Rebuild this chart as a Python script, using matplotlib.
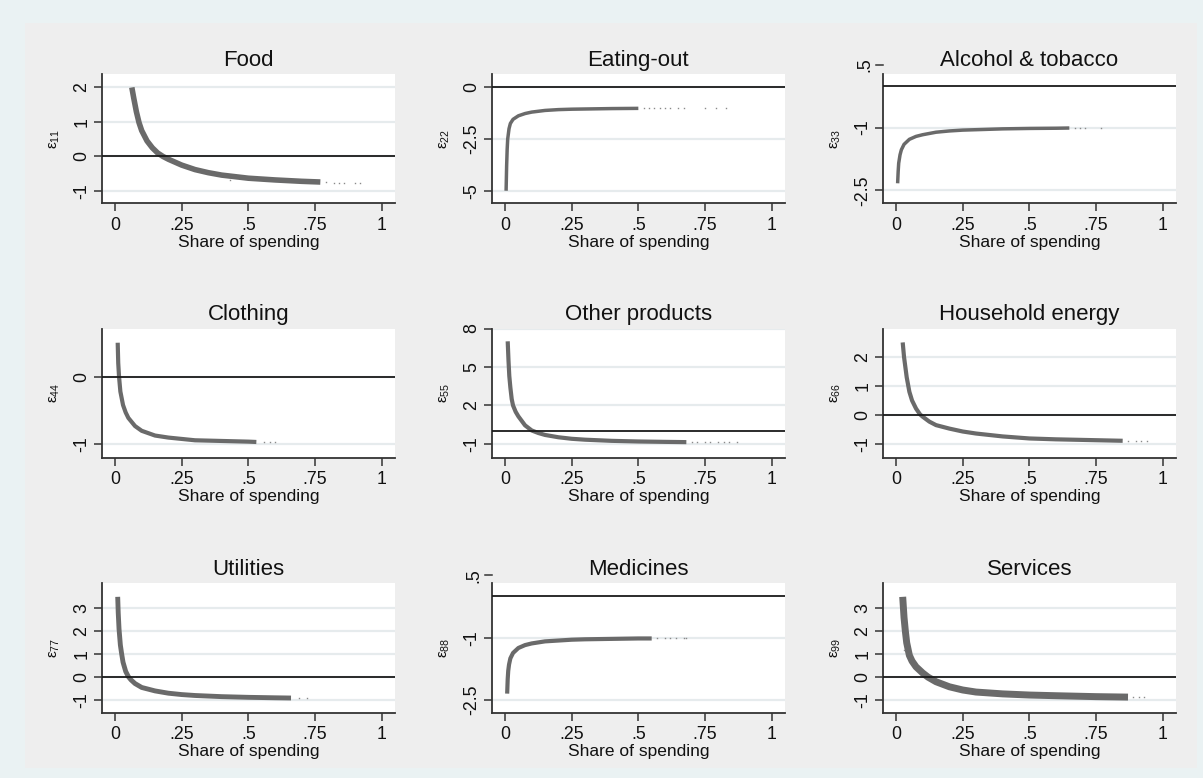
import matplotlib
matplotlib.use("Agg")
import matplotlib.pyplot as plt
from matplotlib.patches import Rectangle

plt.rcParams['font.family'] = ['Liberation Sans', 'DejaVu Sans']
plt.rcParams['mathtext.fontset'] = 'custom'
plt.rcParams['mathtext.rm'] = 'Liberation Sans'

# ---------------- data ----------------
titles = ["Food", "Eating-out", "Alcohol & tobacco",
          "Clothing", "Other products", "Household energy",
          "Utilities", "Medicines", "Services"]
ylabels = [r"ε$_{\mathrm{11}}$", r"ε$_{\mathrm{22}}$", r"ε$_{\mathrm{33}}$",
           r"ε$_{\mathrm{44}}$", r"ε$_{\mathrm{55}}$", r"ε$_{\mathrm{66}}$",
           r"ε$_{\mathrm{77}}$", r"ε$_{\mathrm{88}}$", r"ε$_{\mathrm{99}}$"]

x_ticks = [0, 0.25, 0.5, 0.75, 1]
x_ticklabels = ["0", ".25", ".5", ".75", "1"]

food_share = [0.063, 0.07, 0.08, 0.09, 0.10, 0.12, 0.14, 0.16, 0.18, 0.20, 0.25,
              0.30, 0.35, 0.40, 0.50, 0.60, 0.70, 0.77]
food_elast = [2.0, 1.7, 1.3, 0.98, 0.75, 0.45, 0.25, 0.1, 0.0, -0.08, -0.25,
              -0.38, -0.47, -0.54, -0.63, -0.68, -0.72, -0.74]
food_tail_share = [0.43, 0.79, 0.82, 0.84, 0.86, 0.90, 0.92]
food_tail_elast = [-0.69, -0.75, -0.76, -0.76, -0.77, -0.78, -0.78]

eat_share = [0.004, 0.006, 0.008, 0.01, 0.015, 0.02, 0.03, 0.05, 0.075, 0.1,
             0.15, 0.2, 0.25, 0.3, 0.4, 0.5]
eat_elast = [-5.0, -3.8, -3.0, -2.5, -2.0, -1.75, -1.55, -1.38, -1.27, -1.2,
             -1.12, -1.08, -1.06, -1.05, -1.03, -1.02]
eat_tail_share = [0.52, 0.54, 0.56, 0.58, 0.60, 0.62, 0.65, 0.67, 0.75, 0.79, 0.83]
eat_tail_elast = [-1.01] * 11

alc_share = [0.006, 0.008, 0.01, 0.015, 0.02, 0.03, 0.05, 0.075, 0.1, 0.15,
             0.2, 0.25, 0.3, 0.4, 0.5, 0.6, 0.65]
alc_elast = [-2.33, -2.05, -1.85, -1.65, -1.53, -1.4, -1.28, -1.21, -1.17, -1.11,
             -1.08, -1.06, -1.05, -1.03, -1.02, -1.015, -1.01]
alc_tail_share = [0.67, 0.69, 0.71, 0.77]
alc_tail_elast = [-1.01, -1.0, -1.0, -1.0]

clo_share = [0.01, 0.012, 0.015, 0.02, 0.03, 0.04, 0.05, 0.075, 0.1, 0.15,
             0.2, 0.25, 0.3, 0.4, 0.5, 0.53]
clo_elast = [0.5, 0.2, 0.0, -0.22, -0.42, -0.53, -0.61, -0.73, -0.8, -0.87,
             -0.9, -0.92, -0.94, -0.95, -0.96, -0.965]
clo_tail_share = [0.56, 0.58, 0.60]
clo_tail_elast = [-0.97, -0.97, -0.97]

oth_share = [0.01, 0.013, 0.016, 0.02, 0.025, 0.03, 0.04, 0.05, 0.075, 0.1,
             0.125, 0.15, 0.2, 0.25, 0.3, 0.4, 0.5, 0.6, 0.68]
oth_elast = [7.0, 5.5, 4.3, 3.4, 2.5, 2.0, 1.5, 1.15, 0.45, 0.05,
             -0.15, -0.3, -0.48, -0.6, -0.67, -0.76, -0.81, -0.84, -0.86]
oth_tail_share = [0.70, 0.72, 0.75, 0.77, 0.80, 0.82, 0.84, 0.87]
oth_tail_elast = [-0.87] * 8

hhe_share = [0.025, 0.03, 0.04, 0.05, 0.06, 0.075, 0.09, 0.1, 0.125, 0.15,
             0.2, 0.25, 0.3, 0.4, 0.5, 0.6, 0.75, 0.85]
hhe_elast = [2.5, 2.0, 1.3, 0.8, 0.5, 0.22, 0.02, -0.06, -0.23, -0.35,
             -0.47, -0.57, -0.64, -0.74, -0.81, -0.84, -0.87, -0.89]
hhe_tail_share = [0.87, 0.90, 0.92, 0.94]
hhe_tail_elast = [-0.9, -0.9, -0.9, -0.9]

uti_share = [0.01, 0.012, 0.015, 0.02, 0.025, 0.03, 0.04, 0.05, 0.06, 0.075,
             0.1, 0.15, 0.2, 0.25, 0.3, 0.4, 0.5, 0.6, 0.66]
uti_elast = [3.5, 2.8, 2.1, 1.4, 1.0, 0.65, 0.25, 0.02, -0.12, -0.28,
             -0.45, -0.6, -0.7, -0.76, -0.8, -0.85, -0.88, -0.9, -0.91]
uti_tail_share = [0.69, 0.72]
uti_tail_elast = [-0.92, -0.92]

med_share = [0.008, 0.01, 0.012, 0.015, 0.02, 0.03, 0.05, 0.075, 0.1, 0.15,
             0.2, 0.25, 0.3, 0.4, 0.5, 0.55]
med_elast = [-2.35, -2.0, -1.8, -1.65, -1.5, -1.37, -1.25, -1.18, -1.14, -1.09,
             -1.07, -1.05, -1.04, -1.03, -1.02, -1.02]
med_tail_share = [0.57, 0.60, 0.62, 0.64, 0.67, 0.68]
med_tail_elast = [-1.01] * 6

ser_share = [0.025, 0.03, 0.035, 0.04, 0.05, 0.06, 0.075, 0.1, 0.12, 0.15,
             0.2, 0.25, 0.3, 0.4, 0.5, 0.6, 0.75, 0.87]
ser_elast = [3.5, 2.6, 2.0, 1.5, 0.95, 0.7, 0.45, 0.18, 0.0, -0.2,
             -0.42, -0.56, -0.65, -0.73, -0.78, -0.81, -0.85, -0.87]
ser_tail_share = [0.03, 0.89, 0.91, 0.93]
ser_tail_elast = [1.2, -0.87, -0.87, -0.87]

shares = [food_share, eat_share, alc_share, clo_share, oth_share, hhe_share,
          uti_share, med_share, ser_share]
elasts = [food_elast, eat_elast, alc_elast, clo_elast, oth_elast, hhe_elast,
          uti_elast, med_elast, ser_elast]
tail_shares = [food_tail_share, eat_tail_share, alc_tail_share, clo_tail_share,
               oth_tail_share, hhe_tail_share, uti_tail_share, med_tail_share,
               ser_tail_share]
tail_elasts = [food_tail_elast, eat_tail_elast, alc_tail_elast, clo_tail_elast,
               oth_tail_elast, hhe_tail_elast, uti_tail_elast, med_tail_elast,
               ser_tail_elast]

y_ticks = [[-1, 0, 1, 2], [-5, -2.5, 0], [-2.5, -1],
           [-1, 0], [-1, 2, 5, 8], [-1, 0, 1, 2],
           [-1, 0, 1, 2, 3], [-2.5, -1], [-1, 0, 1, 2, 3]]
y_ticklabels = [["-1", "0", "1", "2"], ["-5", "-2.5", "0"], ["-2.5", "-1"],
                ["-1", "0"], ["-1", "2", "5", "8"], ["-1", "0", "1", "2"],
                ["-1", "0", "1", "2", "3"], ["-2.5", "-1"], ["-1", "0", "1", "2", "3"]]
# extra tick drawn above the plot region (Stata style)
extra_tick = [None, None, 0.5, None, None, None, None, 0.5, None]
extra_ticklabel = [None, None, ".5", None, None, None, None, ".5", None]

y_lims = [(-1.36, 2.39), (-5.61, 0.64), (-2.81, 0.28),
          (-1.2, 0.71), (-2.09, 7.95), (-1.48, 2.98),
          (-1.55, 4.09), (-2.81, 0.31), (-1.55, 4.09)]
band_width = [4.0, 2.5, 2.5, 3.0, 3.0, 3.0, 3.5, 3.0, 5.0]

# ---------------- layout ----------------
W, H = 1203, 778
fig = plt.figure(figsize=(W / 100, H / 100), dpi=100)
fig.patch.set_facecolor('#EAF2F3')
fig.patches.append(Rectangle((25 / W, 1 - 768 / H), (1197 - 25) / W, (768 - 23) / H,
                             transform=fig.transFigure, facecolor='#EEEEEE',
                             edgecolor='none', zorder=-10))

col_left = [101.7, 491.7, 882.7]
col_w = 293.3
row_top = [74, 328.5, 583.3]
row_h = 129.4

curve_color = '#6a6a6a'
tail_color = '#8a8a8a'
axis_color = '#333333'
grid_color = '#E6EBED'
text_color = '#111111'
tick_fs = 12.8

for i in range(9):
    r, c = divmod(i, 3)
    ax = fig.add_axes([col_left[c] / W, 1 - (row_top[r] + row_h) / H,
                       col_w / W, row_h / H])
    ax.set_zorder(1)
    ax.set_facecolor('white')
    for s in ['top', 'right']:
        ax.spines[s].set_visible(False)
    for s in ['left', 'bottom']:
        ax.spines[s].set_color(axis_color)
        ax.spines[s].set_linewidth(1.3)

    ax.set_xlim(-0.05, 1.05)
    ax.set_ylim(*y_lims[i])
    ax.set_xticks(x_ticks)
    ax.set_xticklabels(x_ticklabels)
    ax.set_yticks(y_ticks[i])
    ax.set_yticklabels(y_ticklabels[i])
    ax.tick_params(axis='both', direction='out', length=6, width=1.1,
                   color=axis_color, labelsize=tick_fs, labelcolor=text_color)
    ax.tick_params(axis='x', pad=3.5)
    ax.tick_params(axis='y', pad=2, labelrotation=90)
    for lab in ax.get_yticklabels():
        lab.set_va('center')

    for yv in y_ticks[i]:
        ax.axhline(yv, color=grid_color, lw=1.6, zorder=1)
    ax.axhline(0, color='#1a1a1a', lw=1.3, zorder=4)

    ax.plot(shares[i], elasts[i], color=curve_color, lw=band_width[i],
            solid_capstyle='butt', solid_joinstyle='round', zorder=3)
    ax.plot(tail_shares[i], tail_elasts[i], linestyle='none', marker='s',
            markersize=1.0, markeredgewidth=0, color=tail_color, zorder=3)

    ax.set_title(titles[i], fontsize=16, pad=6, color=text_color)
    ax.set_xlabel("Share of spending", fontsize=12.5, labelpad=1, color=text_color)
    ax.set_ylabel(ylabels[i], fontsize=11, color=text_color)
    ax.yaxis.set_label_coords(-0.135, 0.5)

    if extra_tick[i] is not None:
        tr = ax.get_yaxis_transform()
        ax.plot([-0.022, 0], [extra_tick[i], extra_tick[i]], color=axis_color,
                lw=1.1, transform=tr, clip_on=False)
        ax.text(-0.033, extra_tick[i], extra_ticklabel[i], transform=tr,
                rotation=90, ha='right', va='center', fontsize=tick_fs,
                color=text_color, clip_on=False)

fig.savefig("out.png", dpi=100, facecolor=fig.get_facecolor())
